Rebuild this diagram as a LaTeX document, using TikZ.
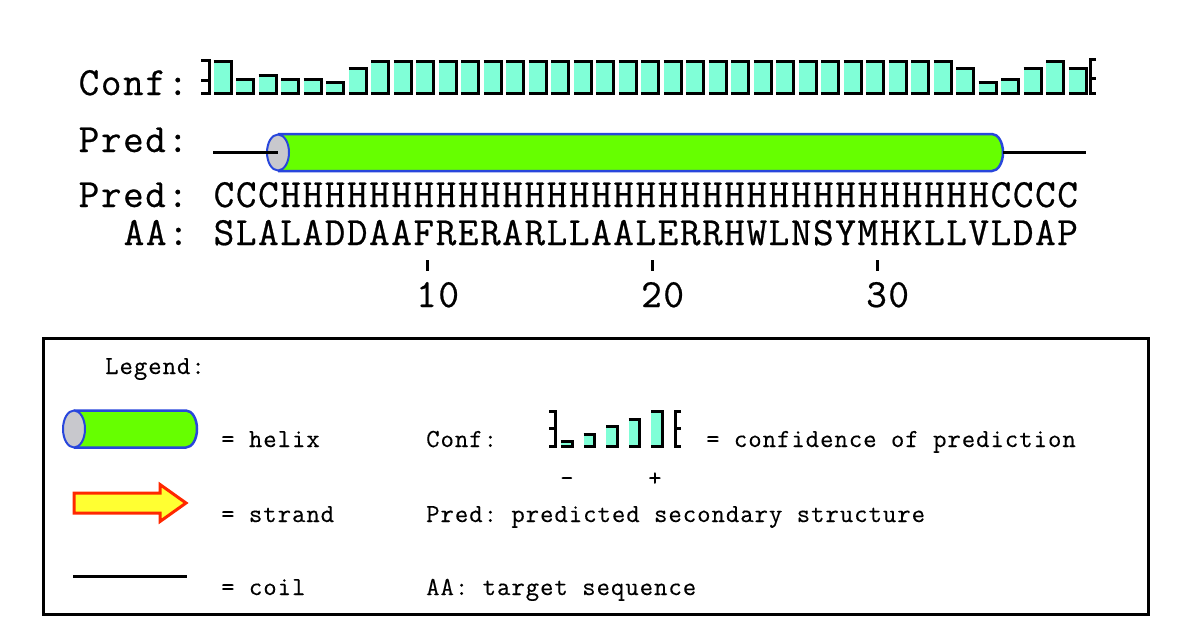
\documentclass[tikz,border=0pt]{standalone}
\usepackage{fontspec}
\newfontfamily\seqfont[LetterSpace=4,FakeBold=0.6]{Latin Modern Mono}
\newfontfamily\legfont[LetterSpace=3.75,FakeBold=0.3]{Latin Modern Mono}
\definecolor{confc}{RGB}{128,255,215}
\definecolor{helixg}{RGB}{102,255,0}
\definecolor{helixb}{RGB}{40,70,220}
\definecolor{capgray}{RGB}{200,200,205}
\definecolor{strandy}{RGB}{255,255,50}
\definecolor{strandr}{RGB}{255,40,0}
\tikzset{
  bigtxt/.style={font=\seqfont\fontsize{40}{44}\selectfont\frenchspacing, anchor=base west, inner sep=0pt},
  smalltxt/.style={font=\legfont\fontsize{26}{30}\selectfont\frenchspacing, anchor=base west, inner sep=0pt},
  blk/.style={draw=black, line width=3pt},
  confbar/.style={fill=confc},
  helixbody/.style={fill=helixg},
  helixline/.style={draw=helixb, line width=2.5pt},
  helixcap/.style={fill=capgray, draw=helixb, line width=2pt},
  coilline/.style={draw=black, line width=3pt},
}
\begin{document}
\frenchspacing
\begin{tikzpicture}[x=1pt,y=-1pt]
\useasboundingbox (0,0) rectangle (1200,640);
\fill[white] (0,0) rectangle (1200,640);

% ---------- top labels ----------
\node[bigtxt] (lconf) at (78.5,95) {Conf:};
\node[bigtxt] (lpred1) at (78.5,152) {Pred:};
\node[bigtxt] (lpred2) at (78.5,207) {Pred:};
\node[bigtxt] (laa) at (123.5,245) {AA:};
\node[bigtxt] (pred) at (213.5,207) {CCCHHHHHHHHHHHHHHHHHHHHHHHHHHHHHHHHCCCC};
\node[bigtxt] (seq) at (213.5,245) {SLALADDAAFRERARLLAALERRHWLNSYMHKLLVLDAP};

% ---------- confidence bars ----------
\draw[blk] (201,60.5) -- (209.5,60.5) -- (209.5,93.5) -- (201,93.5);
\draw[blk] (201,80) -- (209.5,80);
\foreach \i/\c in {1/9,2/4,3/5,4/4,5/4,6/3,7/7,8/9,9/9,10/9,11/9,12/9,13/9,14/9,15/9,16/9,17/9,18/9,19/9,20/9,21/9,22/9,23/9,24/9,25/9,26/9,27/9,28/9,29/9,30/9,31/9,32/9,33/9,34/7,35/3,36/4,37/7,38/9,39/7}{
  \pgfmathsetmacro\l{213.5+22.5*(\i-1)}
  \pgfmathsetmacro\r{\l+17.5}
  \pgfmathsetmacro\t{95-3.5*(\c+1)+1.5}
  \fill[confbar] (\l,\t) rectangle (\r,93.5);
  \draw[blk] (\l,\t) -- (\r,\t) -- (\r,93.5) -- (\l,93.5);
}
\draw[blk] (1096,59.5) -- (1090.5,59.5) -- (1090.5,93.5) -- (1096,93.5);
\draw[blk] (1090.5,78) -- (1096,78);

% ---------- predicted structure track ----------
\path[helixbody] (278,134) -- (992,134) arc[start angle=-90, end angle=90, x radius=11, y radius=18.5] -- (278,171) -- cycle;
\draw[helixline] (278,134) -- (992,134) arc[start angle=-90, end angle=90, x radius=11, y radius=18.5] -- (278,171);
\draw[helixcap] (278,152.5) ellipse [x radius=11, y radius=18];
\coordinate (c1a) at (213,152.5);
\coordinate (c1b) at (278,152.5);
\coordinate (c2a) at (1003,152.5);
\coordinate (c2b) at (1086,152.5);
\draw[coilline] (c1a) -- (c1b);
\draw[coilline] (c2a) -- (c2b);

% ---------- ruler ----------
\foreach \n/\k in {10/1,20/2,30/3}{
  \pgfmathsetmacro\cx{213.5+22.5*(\n-0.5)}
  \pgfmathsetmacro\sx{213.5+22.5*(\n-1)}
  \coordinate (t\k a) at (\cx,260);
  \coordinate (t\k b) at (\cx,271);
  \draw[line width=3pt] (t\k a) -- (t\k b);
  \node[bigtxt] (num\k) at (\sx,307) {\n};
}

% ---------- legend ----------
\draw[line width=3pt] (43,338) rectangle (1148,614);
\node[smalltxt] (leg) at (105,374) {Legend:};

% helix icon
\path[helixbody] (74,410.5) -- (186,410.5) arc[start angle=-90, end angle=90, x radius=11, y radius=18.5] -- (74,447.5) -- cycle;
\draw[helixline] (74,410.5) -- (186,410.5) arc[start angle=-90, end angle=90, x radius=11, y radius=18.5] -- (74,447.5);
\draw[helixcap] (74,429) ellipse [x radius=11, y radius=18.5];
\node[smalltxt] (lhelix) at (221,447) {= helix};

% strand icon
\draw[fill=strandy, draw=strandr, line width=3pt, line join=miter]
  (74,493) -- (160,493) -- (160,484.5) -- (186,503) -- (160,521.5) -- (160,513) -- (74,513) -- cycle;
\node[smalltxt] (lstrand) at (221,522) {= strand};

% coil icon
\coordinate (k1) at (73,576);
\coordinate (k2) at (187,576);
\draw[coilline] (k1) -- (k2);
\node[smalltxt] (lcoil) at (221,595) {= coil};

% right column
\node[smalltxt] (lconfleg) at (426,447) {Conf:};
\draw[blk] (549,411.5) -- (555.5,411.5) -- (555.5,446.5) -- (549,446.5);
\draw[blk] (549,428) -- (555.5,428);
\foreach \i/\c in {1/1,2/3,3/5,4/7,5/9}{
  \pgfmathsetmacro\l{561+22.5*(\i-1)}
  \pgfmathsetmacro\r{\l+11}
  \pgfmathsetmacro\t{448-3.8*(\c+1)+1.5}
  \fill[confbar] (\l,\t) rectangle (\r,446.5);
  \draw[blk] (\l,\t) -- (\r,\t) -- (\r,446.5) -- (\l,446.5);
}
\draw[blk] (681,411.5) -- (675,411.5) -- (675,446.5) -- (681,446.5);
\draw[blk] (675,428) -- (681,428);
\node[smalltxt] (lconfdesc) at (706,447) {= confidence of prediction};
\node[smalltxt] (lminus) at (560,486) {-};
\node[smalltxt] (lplus) at (648,486) {+};
\node[smalltxt] (lpreddesc) at (426,522) {Pred: predicted secondary structure};
\node[smalltxt] (laadesc) at (426,595) {AA: target sequence};
\end{tikzpicture}
\end{document}
